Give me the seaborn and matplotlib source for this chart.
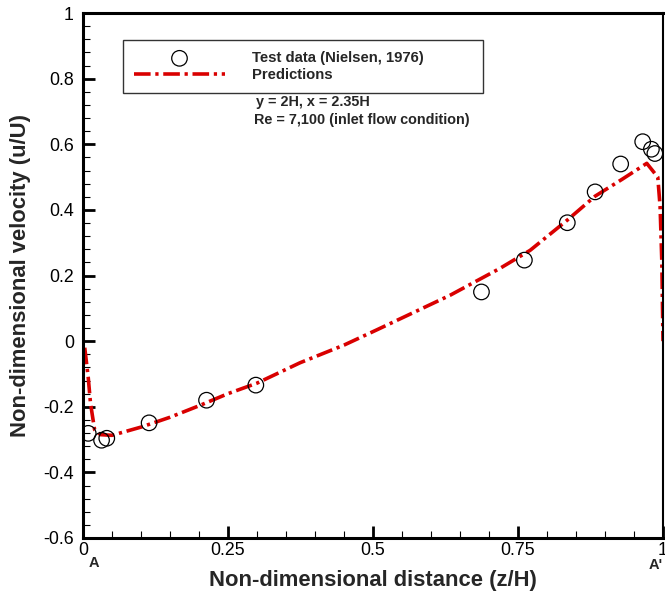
import matplotlib
matplotlib.use('Agg')
import matplotlib.pyplot as plt
from matplotlib.ticker import MultipleLocator, FixedLocator
import numpy as np
import pandas as pd
import seaborn as sns

# test data (Nielsen, 1976)
test_z = [0.009, 0.032, 0.041, 0.114, 0.213, 0.298, 0.687, 0.761, 0.835, 0.883, 0.927, 0.965, 0.980, 0.986]
test_u = [-0.281, -0.302, -0.296, -0.249, -0.180, -0.134, 0.150, 0.247, 0.361, 0.455, 0.540, 0.608, 0.585, 0.572]

# predicted profile
pred_z = [0.003, 0.009, 0.013, 0.020, 0.030, 0.050, 0.100, 0.150, 0.200, 0.250, 0.300, 0.374,
          0.450, 0.506, 0.633, 0.719, 0.771, 0.835, 0.883, 0.930, 0.972, 0.991, 0.995, 0.998, 1.000]
pred_u = [-0.02, -0.11, -0.19, -0.27, -0.285, -0.287, -0.262, -0.232, -0.197, -0.160, -0.128, -0.066,
          -0.012, 0.034, 0.140, 0.222, 0.277, 0.369, 0.442, 0.494, 0.542, 0.50, 0.41, 0.24, 0.0]

xticks = [0, 0.25, 0.5, 0.75, 1]
xtick_labels = ['0', '0.25', '0.5', '0.75', '1']
yticks = [-0.6, -0.4, -0.2, 0, 0.2, 0.4, 0.6, 0.8, 1]
ytick_labels = ['-0.6', '-0.4', '-0.2', '0', '0.2', '0.4', '0.6', '0.8', '1']

test = pd.DataFrame({'z': test_z, 'u': test_u})
pred = pd.DataFrame({'z': pred_z, 'u': pred_u})

sns.set_theme(style='white')
plt.rcParams['font.family'] = ['Liberation Sans', 'DejaVu Sans']
plt.rcParams['axes.unicode_minus'] = False

fig = plt.figure(figsize=(6.65, 5.95), dpi=100)
ax = fig.add_axes([0.1248, 0.0958, 0.997 - 0.1248, 0.978 - 0.0958])

red = '#d90000'
sns.lineplot(data=pred, x='z', y='u', sort=False, estimator=None, ax=ax,
             color=red, linewidth=2.6, zorder=2)
line = ax.lines[-1]
line.set_dashes((4.6, 1.3, 0.9, 1.3))
line.set_dash_capstyle('butt')

sns.scatterplot(data=test, x='z', y='u', ax=ax, marker='o', s=125,
                facecolor='none', edgecolor='black', linewidth=0.9, zorder=3)
pts = ax.collections[-1]

ax.set_xlim(0, 1)
ax.set_ylim(-0.6, 1)
ax.xaxis.set_major_locator(FixedLocator(xticks))
ax.set_xticklabels(xtick_labels)
ax.xaxis.set_minor_locator(MultipleLocator(0.05))
ax.yaxis.set_major_locator(FixedLocator(yticks))
ax.set_yticklabels(ytick_labels)
ax.yaxis.set_minor_locator(MultipleLocator(0.04))

ax.tick_params(which='both', direction='in', bottom=True, left=True, top=False, right=False,
               labelsize=12.8, colors='black')
ax.tick_params(which='major', length=8.5, width=2)
ax.tick_params(which='minor', length=5, width=0.8)
ax.tick_params(axis='y', which='major', pad=6.5)
ax.tick_params(axis='x', which='major', pad=3)

for side in ['left', 'bottom', 'top']:
    ax.spines[side].set_linewidth(2.2)
    ax.spines[side].set_color('black')
ax.spines['right'].set_linewidth(1.5)
ax.spines['right'].set_color('black')

ax.set_xlabel('Non-dimensional distance (z/H)', fontsize=15.8, fontweight='bold', labelpad=8)
ax.set_ylabel('Non-dimensional velocity (u/U)', fontsize=15.8, fontweight='bold', labelpad=9)

# end markers under the x tick labels
ax.annotate('A', xy=(0, 0), xycoords='axes fraction', xytext=(11, -25), textcoords='offset pixels',
            ha='center', va='center', fontsize=10.5, fontweight='bold')
ax.annotate("A'", xy=(1, 0), xycoords='axes fraction', xytext=(-7, -27), textcoords='offset pixels',
            ha='center', va='center', fontsize=10.5, fontweight='bold')

leg = ax.legend([pts, line], ['Test data (Nielsen, 1976)', 'Predictions'],
                loc='upper left', bbox_to_anchor=(0.069, 0.857, 0.621, 0.0916), mode='expand',
                borderaxespad=0, frameon=True, fancybox=False, handlelength=6.1, handletextpad=1.8,
                labelspacing=0.2, borderpad=0.75, prop={'weight': 'bold', 'size': 10.7})
leg.get_frame().set_edgecolor('black')
leg.get_frame().set_linewidth(1.0)

ax.text(0.298, 0.729, 'y = 2H, x = 2.35H', fontsize=10.4, fontweight='bold', va='center', ha='left')
ax.text(0.295, 0.674, 'Re = 7,100 (inlet flow condition)', fontsize=10.4, fontweight='bold',
        va='center', ha='left')

fig.savefig('out.png', dpi=100)
